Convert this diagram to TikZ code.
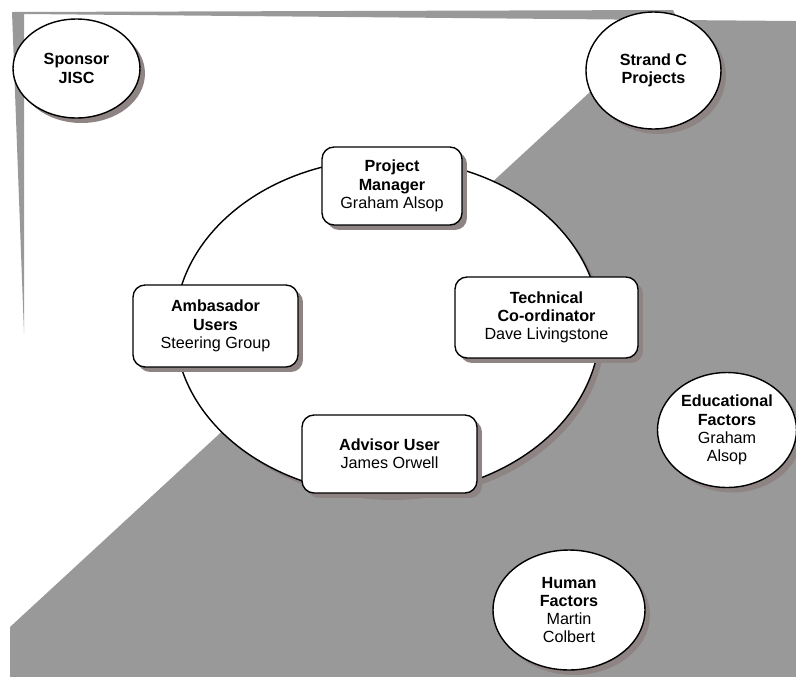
\documentclass[tikz,border=0pt]{standalone}
\usepackage{fontspec}
\setmainfont{Liberation Sans}
\usepackage{tikz}
\usetikzlibrary{shapes.geometric,shadows}
\definecolor{sheetgray}{RGB}{153,153,153}
\definecolor{shadowgray}{RGB}{143,132,132}

\begin{document}
\begin{tikzpicture}[x=0.02cm, y=-0.02cm,
  lbl/.style={font=\fontsize{9.2pt}{10.4pt}\selectfont, align=center},
  shade/.style={drop shadow={shadow xshift=0.1cm, shadow yshift=-0.1cm,
    fill=shadowgray, opacity=1}},
  rolebox/.style={lbl, shade, draw, line width=0.8pt, fill=white,
    rounded corners=0.24cm, inner sep=2pt},
  partyoval/.style={lbl, shade, ellipse, draw, line width=0.8pt, fill=white,
    inner sep=0pt},
]
\useasboundingbox (0,0) rectangle (796,677);

% ── Gray sheet behind ─────────────────────────────────────────────────────────
\fill[sheetgray] (12,12) -- (673,10) -- (678,20) -- (796,21) -- (796,677)
  -- (10,677) -- (10,627) -- (668,20) -- (24,14) -- (24,333) -- cycle;

% ── Project team circle ───────────────────────────────────────────────────────
\node[partyoval, minimum width=8.5cm, minimum height=6.72cm] (team) at (387.5,327) {};

\node[rolebox, minimum width=2.8cm, minimum height=1.56cm] (manager) at (392,186)
  {\textbf{Project}\\\textbf{Manager}\\Graham Alsop};
\node[rolebox, minimum width=3.3cm, minimum height=1.64cm] (ambassador) at (215.5,326)
  {\textbf{Ambasador}\\\textbf{Users}\\Steering Group};
\node[rolebox, minimum width=3.66cm, minimum height=1.62cm] (technical) at (546.5,317.5)
  {\textbf{Technical}\\\textbf{Co-ordinator}\\Dave Livingstone};
\node[rolebox, minimum width=3.5cm, minimum height=1.56cm] (advisor) at (389.5,454)
  {\textbf{Advisor User}\\James Orwell};

% ── Outside parties ───────────────────────────────────────────────────────────
\node[partyoval, minimum width=2.54cm, minimum height=1.98cm] (sponsor) at (76.5,68.5)
  {\textbf{Sponsor}\\\textbf{JISC}};
\node[partyoval, minimum width=2.7cm, minimum height=2.34cm] (strand) at (653.5,70.5)
  {\textbf{Strand C}\\\textbf{Projects}};
\node[partyoval, minimum width=2.78cm, minimum height=2.3cm] (educational) at (727,430)
  {\textbf{Educational}\\\textbf{Factors}\\Graham\\Alsop};
\node[partyoval, minimum width=3.04cm, minimum height=2.4cm] (human) at (569,610)
  {\textbf{Human}\\\textbf{Factors}\\Martin\\Colbert};

\end{tikzpicture}
\end{document}
